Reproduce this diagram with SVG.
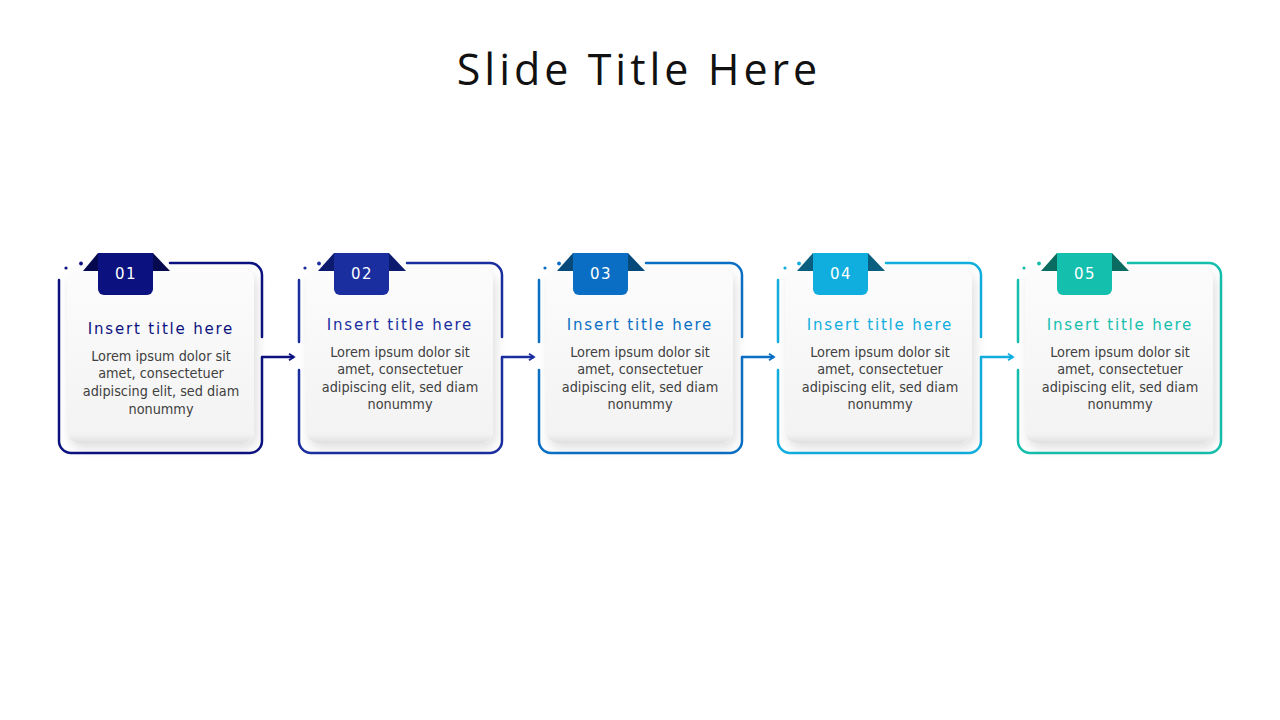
<svg xmlns="http://www.w3.org/2000/svg" width="1280" height="720" viewBox="0 0 1280 720">
<defs>
<style>
.title{font-family:"Open Sans","Liberation Sans",Arial,sans-serif;font-size:43px;letter-spacing:4px;fill:#111;text-anchor:middle}
.num{font-family:"DejaVu Sans","Liberation Sans",sans-serif;font-size:15px;letter-spacing:1.5px;fill:#fff;text-anchor:middle}
.ct{font-family:"DejaVu Sans","Liberation Sans",sans-serif;font-size:15px;letter-spacing:1.8px;text-anchor:middle}
.body{font-family:"DejaVu Sans Condensed","DejaVu Sans","Liberation Sans",sans-serif;font-size:14.3px;fill:#404040;text-anchor:middle}
.frame{fill:none;stroke-width:2.5;stroke-linecap:round}
.conn{fill:none;stroke-width:2.5}
.card{fill:url(#cg);filter:url(#sh)}
</style>
<linearGradient id="cg" x1="0" y1="0" x2="0" y2="1">
<stop offset="0" stop-color="#fcfcfc"/>
<stop offset="0.95" stop-color="#f3f3f3"/>
<stop offset="1" stop-color="#e0e0e0"/>
</linearGradient>
<filter id="sh" x="-20%" y="-20%" width="150%" height="150%">
<feDropShadow dx="3" dy="5" stdDeviation="6" flood-color="#000" flood-opacity="0.13"/>
</filter>
<marker id="ah" viewBox="0 0 8 8" refX="6" refY="4" markerWidth="8" markerHeight="8" markerUnits="userSpaceOnUse" orient="auto">
<path d="M1,0.8 L6,4 L1,7.2" fill="none" stroke="context-stroke" stroke-width="1.8"/>
</marker>
</defs>
<rect width="1280" height="720" fill="#fff"/>
<text class="title" x="639" y="85">Slide Title Here</text>

<g id="connectors">
<path class="conn" d="M262,357 H294" stroke="#0b1280" marker-end="url(#ah)"/>
<path class="conn" d="M502,357 H534" stroke="#1a2ea0" marker-end="url(#ah)"/>
<path class="conn" d="M742,357 H774" stroke="#0a6fc4" marker-end="url(#ah)"/>
<path class="conn" d="M981,357 H1013" stroke="#10aede" marker-end="url(#ah)"/>
</g>

<g id="node1">
<path class="frame" stroke="#0b1280" d="M170,263 H250 A12,12 0 0 1 262,275 V337 M262,357 V441 A12,12 0 0 1 250,453 H71 A12,12 0 0 1 59,441 V280"/>
<circle cx="66" cy="268" r="1.6" fill="#0b1280"/>
<circle cx="81" cy="263.5" r="1.9" fill="#0b1280"/>
<rect class="card" x="67" y="269" width="187" height="174" rx="12"/>
<path d="M98,253 H153 L170,271 H83 Z" fill="#050a4e"/>
<path d="M98,253 H153 V289 A6,6 0 0 1 147,295 H104 A6,6 0 0 1 98,289 Z" fill="#0b1280"/>
<text class="num" x="126" y="279">01</text>
<text class="ct" x="161" y="334" fill="#0b1280">Insert title here</text>
<text class="body" x="161" y="361">Lorem ipsum dolor sit</text>
<text class="body" x="161" y="378">amet, consectetuer</text>
<text class="body" x="161" y="396">adipiscing elit, sed diam</text>
<text class="body" x="161" y="414">nonummy</text>
</g>

<g id="node2">
<path class="frame" stroke="#1a2ea0" d="M407,263 H490 A12,12 0 0 1 502,275 V337 M502,357 V441 A12,12 0 0 1 490,453 H311 A12,12 0 0 1 299,441 V370 M299,280 V342"/>
<circle cx="305" cy="268" r="1.6" fill="#1a2ea0"/>
<circle cx="319" cy="263.5" r="1.9" fill="#1a2ea0"/>
<rect class="card" x="306" y="269" width="187" height="174" rx="12"/>
<path d="M334,253 H389 L406,271 H318 Z" fill="#0d1b6e"/>
<path d="M334,253 H389 V289 A6,6 0 0 1 383,295 H340 A6,6 0 0 1 334,289 Z" fill="#1a2ea0"/>
<text class="num" x="362" y="279">02</text>
<text class="ct" x="400" y="330" fill="#1a2ea0">Insert title here</text>
<text class="body" x="400" y="357">Lorem ipsum dolor sit</text>
<text class="body" x="400" y="374">amet, consectetuer</text>
<text class="body" x="400" y="392">adipiscing elit, sed diam</text>
<text class="body" x="400" y="409">nonummy</text>
</g>

<g id="node3">
<path class="frame" stroke="#0a6fc4" d="M646,263 H730 A12,12 0 0 1 742,275 V337 M742,357 V441 A12,12 0 0 1 730,453 H551 A12,12 0 0 1 539,441 V370 M539,280 V342"/>
<circle cx="545" cy="268" r="1.6" fill="#0a6fc4"/>
<circle cx="559" cy="263.5" r="1.9" fill="#0a6fc4"/>
<rect class="card" x="546" y="269" width="187" height="174" rx="12"/>
<path d="M573,253 H628 L645,271 H557 Z" fill="#064a7c"/>
<path d="M573,253 H628 V289 A6,6 0 0 1 622,295 H579 A6,6 0 0 1 573,289 Z" fill="#0a6fc4"/>
<text class="num" x="601" y="279">03</text>
<text class="ct" x="640" y="330" fill="#0a6fc4">Insert title here</text>
<text class="body" x="640" y="357">Lorem ipsum dolor sit</text>
<text class="body" x="640" y="374">amet, consectetuer</text>
<text class="body" x="640" y="392">adipiscing elit, sed diam</text>
<text class="body" x="640" y="409">nonummy</text>
</g>

<g id="node4">
<path class="frame" stroke="#10aede" d="M886,263 H969 A12,12 0 0 1 981,275 V337 M981,357 V441 A12,12 0 0 1 969,453 H790 A12,12 0 0 1 778,441 V370 M778,280 V342"/>
<circle cx="785" cy="268" r="1.6" fill="#10aede"/>
<circle cx="799" cy="263.5" r="1.9" fill="#10aede"/>
<rect class="card" x="785" y="269" width="187" height="174" rx="12"/>
<path d="M813,253 H868 L885,271 H797 Z" fill="#0a5f80"/>
<path d="M813,253 H868 V289 A6,6 0 0 1 862,295 H819 A6,6 0 0 1 813,289 Z" fill="#10aede"/>
<text class="num" x="841" y="279">04</text>
<text class="ct" x="880" y="330" fill="#10aede">Insert title here</text>
<text class="body" x="880" y="357">Lorem ipsum dolor sit</text>
<text class="body" x="880" y="374">amet, consectetuer</text>
<text class="body" x="880" y="392">adipiscing elit, sed diam</text>
<text class="body" x="880" y="409">nonummy</text>
</g>

<g id="node5">
<path class="frame" stroke="#14bfae" d="M1128,263 H1209 A12,12 0 0 1 1221,275 V441 A12,12 0 0 1 1209,453 H1030 A12,12 0 0 1 1018,441 V370 M1018,280 V342"/>
<circle cx="1024" cy="268" r="1.6" fill="#14bfae"/>
<circle cx="1039" cy="263.5" r="1.9" fill="#14bfae"/>
<rect class="card" x="1025" y="269" width="188" height="174" rx="12"/>
<path d="M1057,253 H1112 L1129,271 H1041 Z" fill="#0a6b60"/>
<path d="M1057,253 H1112 V289 A6,6 0 0 1 1106,295 H1063 A6,6 0 0 1 1057,289 Z" fill="#14bfae"/>
<text class="num" x="1085" y="279">05</text>
<text class="ct" x="1120" y="330" fill="#14bfae">Insert title here</text>
<text class="body" x="1120" y="357">Lorem ipsum dolor sit</text>
<text class="body" x="1120" y="374">amet, consectetuer</text>
<text class="body" x="1120" y="392">adipiscing elit, sed diam</text>
<text class="body" x="1120" y="409">nonummy</text>
</g>
</svg>
